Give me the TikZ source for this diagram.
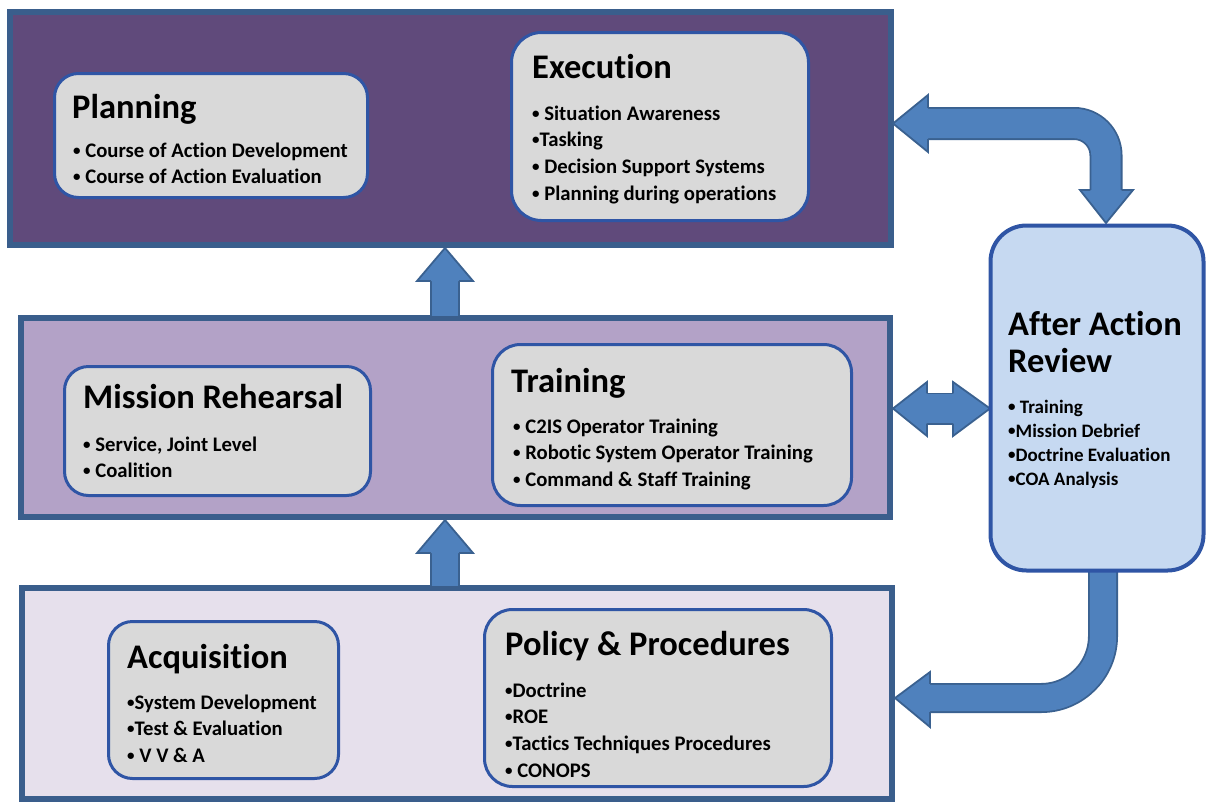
\documentclass[tikz,border=0pt]{standalone}
\usepackage{fontspec}
\setmainfont{Carlito}[Ligatures={NoCommon}]
\definecolor{topfill}{HTML}{604A7B}
\definecolor{midfill}{HTML}{B3A2C7}
\definecolor{botfill}{HTML}{E6E0EC}
\definecolor{bandline}{HTML}{3A5E8C}
\definecolor{boxfill}{HTML}{D9D9D9}
\definecolor{boxline}{HTML}{2F55A5}
\definecolor{aarfill}{HTML}{C6D9F1}
\definecolor{arrowfill}{HTML}{4F81BD}
\definecolor{arrowline}{HTML}{3A6190}
\newcommand{\bul}{{\fontsize{15}{15}\selectfont\raisebox{1.2pt}{\textbullet}}}
\begin{document}
\begin{tikzpicture}[x=1pt,y=-1pt,
 band/.style={draw=bandline, line width=6pt, rectangle, inner sep=0pt, outer sep=0pt},
 box/.style={draw=boxline, fill=boxfill, line width=3pt, rounded corners=24pt, inner sep=0pt, outer sep=0pt},
 ttl/.style={anchor=base west, inner sep=0pt, font=\bfseries\fontsize{34.5}{38}\selectfont},
 itm/.style={anchor=base west, inner sep=0pt, font=\bfseries\fontsize{20.7}{24}\selectfont},
 aitm/.style={itm, font=\bfseries\fontsize{19}{22}\selectfont},
 shaft/.style={draw=arrowline, line width=1.8pt, double=arrowfill, double distance=26.4pt},
 head/.style={fill=arrowfill, draw=arrowline, line width=1.8pt, line join=miter}]
\useasboundingbox (0,0) rectangle (1206,803);
% bands
\node[band, fill=topfill, minimum width=881pt, minimum height=233pt] (top) at (450.5,128.5) {};
\node[band, fill=midfill, minimum width=869pt, minimum height=199pt] (mid) at (455.5,417.5) {};
\node[band, fill=botfill, minimum width=870pt, minimum height=211pt] (bot) at (457,693.5) {};
% arrows
\coordinate (u1t) at (445,248);
\coordinate (u1b) at (445,316);
\draw[shaft] (u1b) -- (445,281);
\filldraw[head] (430.9,281) -- (417,281) -- (u1t) -- (473,281) -- (459.1,281);
\coordinate (u2t) at (445,520);
\coordinate (u2b) at (445,586);
\draw[shaft] (u2b) -- (445,553);
\filldraw[head] (430.9,553) -- (417,553) -- (u2t) -- (473,553) -- (459.1,553);
% double arrow
\coordinate (dl) at (893,408.5);
\coordinate (dr) at (990,408.5);
\draw[shaft, double distance=28.4pt] (927,408.5) -- (953,408.5);
\filldraw[head] (927,393.4) -- (927,382) -- (dl) -- (927,436) -- (927,423.6);
\filldraw[head] (953,393.4) -- (953,382) -- (dr) -- (953,436) -- (953,423.6);
% top curved arrow
\coordinate (ta) at (893,123.5);
\coordinate (tb) at (1106,223);
\draw[shaft, double distance=29.4pt, rounded corners=32pt] (928,123.5) -- (1106,123.5) -- (1106,190);
\filldraw[head] (928,107.9) -- (928,95) -- (ta) -- (928,152) -- (928,139.1);
\filldraw[head] (1090.4,190) -- (1080,190) -- (tb) -- (1133,190) -- (1121.6,190);
% bottom curved arrow
\coordinate (ba) at (1103,572);
\coordinate (bb) at (895,698);
\draw[shaft, rounded corners=62pt] (ba) -- (1103,698) -- (930,698);
\filldraw[head] (930,683.9) -- (930,672) -- (bb) -- (930,727) -- (930,712.1);
% boxes
\node[box, minimum width=313pt, minimum height=124pt] (plan) at (211,135.5) {};
\node[box, rounded corners=30pt, minimum width=297pt, minimum height=188pt] (exec) at (660,126.5) {};
\node[box, minimum width=306pt, minimum height=129pt] (mr) at (217.5,431) {};
\node[box, rounded corners=28pt, minimum width=359pt, minimum height=161pt] (trn) at (672,425) {};
\node[box, minimum width=230pt, minimum height=157pt] (acq) at (223.5,700) {};
\node[box, rounded corners=28pt, minimum width=347pt, minimum height=177pt] (pol) at (658,698) {};
\node[box, fill=aarfill, line width=4pt, rounded corners=36pt, minimum width=213pt, minimum height=345pt] (aar) at (1097,398) {};
% texts
\node[ttl] (planT) at (72,118) {Planning};
\node[itm] (plan1) at (73,157) {\bul\ Course of Action Development};
\node[itm] (plan2) at (73,183) {\bul\ Course of Action Evaluation};
\node[ttl] (execT) at (532,78) {Execution};
\node[itm] (exec1) at (532,120) {\bul\ Situation Awareness};
\node[itm] (exec2) at (532,146) {\bul Tasking};
\node[itm] (exec3) at (532,173) {\bul\ Decision Support Systems};
\node[itm] (exec4) at (532,200) {\bul\ Planning during operations};
\node[ttl] (mrT) at (83,408) {Mission Rehearsal};
\node[itm] (mr1) at (83,451) {\bul\ Service, Joint Level};
\node[itm] (mr2) at (83,477) {\bul\ Coalition};
\node[ttl] (trnT) at (511,392) {Training};
\node[itm] (trn1) at (513,433) {\bul\ C2IS Operator Training};
\node[itm] (trn2) at (513,459) {\bul\ Robotic System Operator Training};
\node[itm] (trn3) at (513,486) {\bul\ Command \& Staff Training};
\node[ttl] (aarT1) at (1008,335) {After Action};
\node[ttl] (aarT2) at (1008,372) {Review};
\node[aitm] (aar1) at (1008,413) {\bul\ Training};
\node[aitm] (aar2) at (1008,437) {\bul Mission Debrief};
\node[aitm] (aar3) at (1008,461) {\bul Doctrine Evaluation};
\node[aitm] (aar4) at (1008,485) {\bul COA Analysis};
\node[ttl] (acqT) at (127,668) {Acquisition};
\node[itm] (acq1) at (127,709) {\bul System Development};
\node[itm] (acq2) at (127,735) {\bul Test \& Evaluation};
\node[itm] (acq3) at (127,762) {\bul\ V V \& A};
\node[ttl] (polT) at (505,655) {Policy \& Procedures};
\node[itm] (pol1) at (505,697) {\bul Doctrine};
\node[itm] (pol2) at (505,723) {\bul ROE};
\node[itm] (pol3) at (505,750) {\bul Tactics Techniques Procedures};
\node[itm] (pol4) at (505,777) {\bul\ CONOPS};
\end{tikzpicture}
\end{document}
